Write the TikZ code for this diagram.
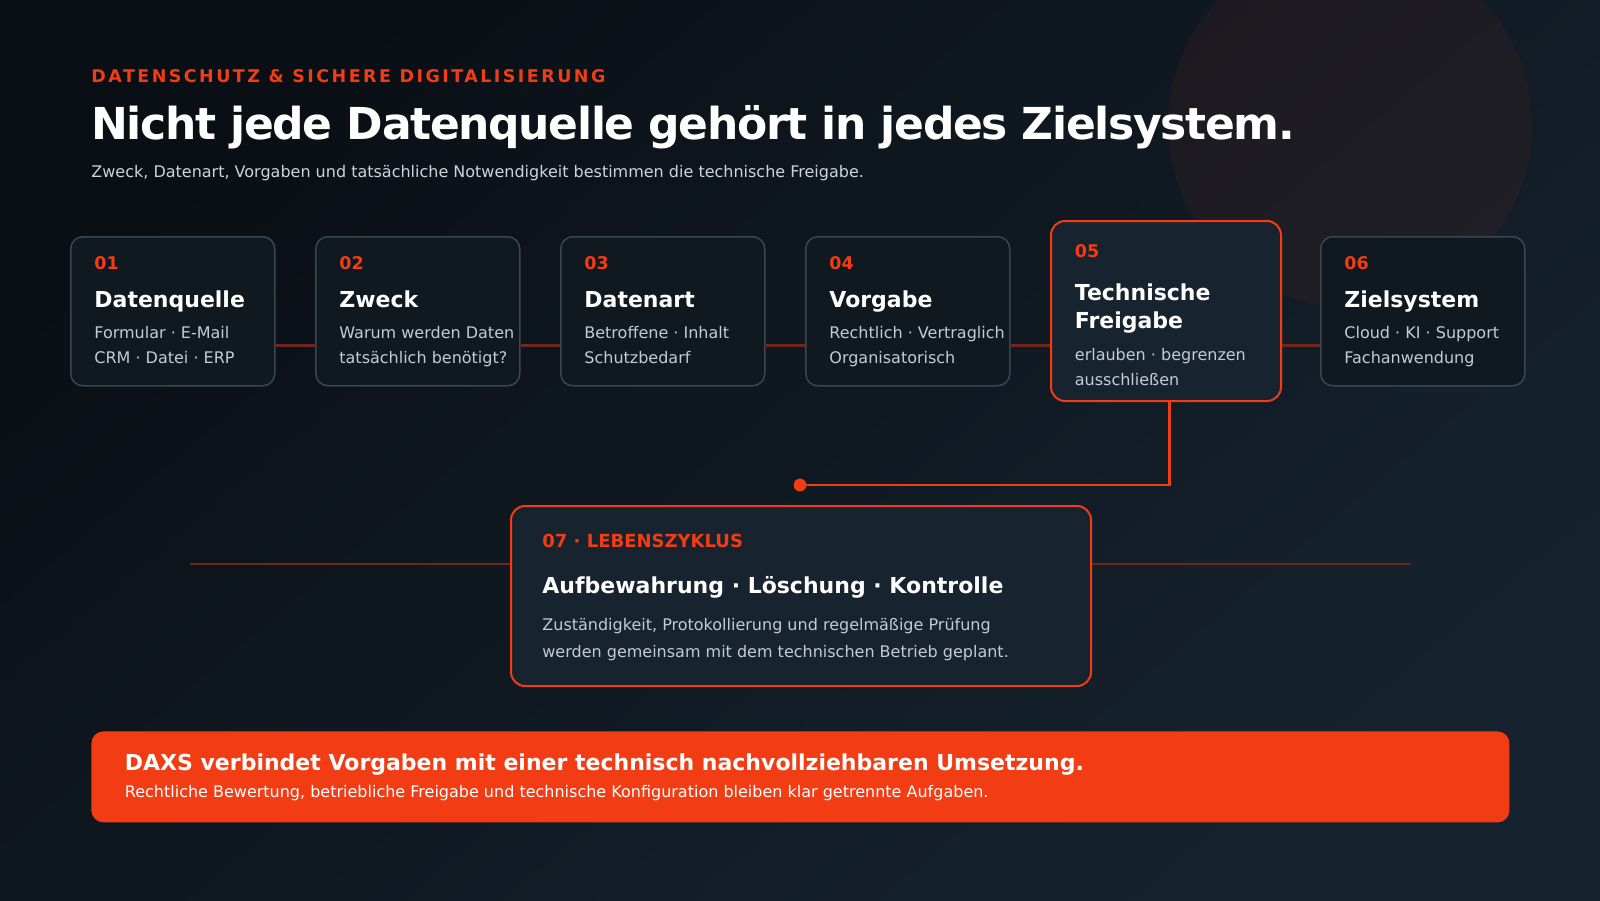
\documentclass[tikz,border=0pt]{standalone}
\usepackage{fontspec}
\setmainfont{DejaVu Sans}
\newfontfamily\eyefont[LetterSpace=14]{DejaVu Sans}
\newfontfamily\headfont[LetterSpace=-3]{DejaVu Sans}
\definecolor{bgA}{HTML}{0A0F15}
\definecolor{bgB}{HTML}{16232F}
\definecolor{accent}{HTML}{F23C14}
\definecolor{cardfill}{HTML}{101820}
\definecolor{cardline}{HTML}{3A4651}
\definecolor{hifill}{HTML}{17232E}
\definecolor{desctxt}{HTML}{C3CBD3}
\definecolor{subtxt}{HTML}{CDD4DB}
\definecolor{linkred}{HTML}{6E2718}
\begin{document}
\begin{tikzpicture}[x=0.5pt,y=-0.5pt,
  card/.style={draw=cardline, line width=0.75pt, fill=cardfill, rounded corners=6pt,
    minimum width=102pt, minimum height=74.5pt, inner sep=0pt, anchor=north west},
  hicard/.style={draw=accent, line width=1pt, fill=hifill, rounded corners=7pt,
    inner sep=0pt, anchor=north west},
  txt/.style={anchor=base west, inner sep=0pt},
  num/.style={txt, text=accent, font=\bfseries\fontsize{8.75pt}{10pt}\selectfont},
  ctitle/.style={txt, text=white, font=\bfseries\fontsize{11pt}{13pt}\selectfont},
  cdesc/.style={txt, text=desctxt, font=\fontsize{8pt}{10pt}\selectfont},
  link/.style={draw=linkred, line width=1.5pt},
]
\useasboundingbox (0,0) rectangle (1600,900);
\shade[top color=bgA, bottom color=bgB, shading angle=40] (0,0) rectangle (1600,900);
\fill[accent, opacity=0.06] (1350,125) circle[radius=91pt];

% header
\node[txt, text=accent, font=\eyefont\bfseries\fontsize{8.75pt}{10pt}\selectfont] (eyebrow) at (91,82) {DATENSCHUTZ \& SICHERE DIGITALISIERUNG};
\node[txt, text=white, font=\headfont\bfseries\fontsize{22pt}{26pt}\selectfont] (title) at (91,139) {Nicht jede Datenquelle gehört in jedes Zielsystem.};
\node[txt, text=subtxt, font=\fontsize{8pt}{10pt}\selectfont] (sub) at (91,177.5) {Zweck, Datenart, Vorgaben und tatsächliche Notwendigkeit bestimmen die technische Freigabe.};

% helper coordinate for the connecting line
\coordinate (ly) at (0,345);

% cards
\node[card] (c1) at (70,236) {};
\node[card] (c2) at (315,236) {};
\node[card] (c3) at (560,236) {};
\node[card] (c4) at (805,236) {};
\node[hicard, minimum width=115pt, minimum height=90pt] (c5) at (1050,220) {};
\node[card] (c6) at (1320,236) {};

\path[link] (c1.east |- ly) -- (c2.west |- ly);
\path[link] (c2.east |- ly) -- (c3.west |- ly);
\path[link] (c3.east |- ly) -- (c4.west |- ly);
\path[link] (c4.east |- ly) -- (c5.west |- ly);
\path[link] (c5.east |- ly) -- (c6.west |- ly);

\node[num] (n1) at (94,269) {01};
\node[ctitle] (t1) at (94,307) {Datenquelle};
\node[cdesc] (d1a) at (94,338) {Formular · E-Mail};
\node[cdesc] (d1b) at (94,363) {CRM · Datei · ERP};

\node[num] (n2) at (339,269) {02};
\node[ctitle] (t2) at (339,307) {Zweck};
\node[cdesc] (d2a) at (339,338) {Warum werden Daten};
\node[cdesc] (d2b) at (339,363) {tatsächlich benötigt?};

\node[num] (n3) at (584,269) {03};
\node[ctitle] (t3) at (584,307) {Datenart};
\node[cdesc] (d3a) at (584,338) {Betroffene · Inhalt};
\node[cdesc] (d3b) at (584,363) {Schutzbedarf};

\node[num] (n4) at (829,269) {04};
\node[ctitle] (t4) at (829,307) {Vorgabe};
\node[cdesc] (d4a) at (829,338) {Rechtlich · Vertraglich};
\node[cdesc] (d4b) at (829,363) {Organisatorisch};

\node[num] (n5) at (1074.5,257) {05};
\node[ctitle] (t5a) at (1074.5,300) {Technische};
\node[ctitle] (t5b) at (1074.5,328.5) {Freigabe};
\node[cdesc] (d5a) at (1074.5,360) {erlauben · begrenzen};
\node[cdesc] (d5b) at (1074.5,385) {ausschließen};

\node[num] (n6) at (1344,269) {06};
\node[ctitle] (t6) at (1344,307) {Zielsystem};
\node[cdesc] (d6a) at (1344,338) {Cloud · KI · Support};
\node[cdesc] (d6b) at (1344,363) {Fachanwendung};

% connector to lifecycle
\coordinate (j) at (1169.5,485);
\coordinate (dot) at (800,485);
\draw[accent, line width=1.25pt] (j |- c5.south) -- (j) -- (dot);
\fill[accent] (dot) circle[radius=3.2pt];

% lifecycle card
\coordinate (l7a) at (190,564);
\coordinate (l7b) at (1410,564);
\node[hicard, minimum width=290pt, minimum height=90pt] (c7) at (510,505) {};
\draw[linkred, line width=1pt] (l7a) -- (c7.west |- l7a);
\draw[linkred, line width=1pt] (c7.east |- l7b) -- (l7b);
\node[txt, text=accent, font=\bfseries\fontsize{9pt}{10pt}\selectfont] (lab7) at (542,547) {07 · LEBENSZYKLUS};
\node[txt, text=white, font=\bfseries\fontsize{11pt}{13pt}\selectfont] (t7) at (542,593) {Aufbewahrung · Löschung · Kontrolle};
\node[cdesc] (d7a) at (542,630.5) {Zuständigkeit, Protokollierung und regelmäßige Prüfung};
\node[cdesc] (d7b) at (542,657) {werden gemeinsam mit dem technischen Betrieb geplant.};

% banner
\node[fill=accent, rounded corners=6pt, minimum width=709pt, minimum height=45.5pt, inner sep=0pt, anchor=north west] (ban) at (91,731) {};
\node[txt, text=white, font=\bfseries\fontsize{11pt}{13pt}\selectfont] (bt) at (124.5,770.5) {DAXS verbindet Vorgaben mit einer technisch nachvollziehbaren Umsetzung.};
\node[txt, text=white, font=\fontsize{8pt}{9pt}\selectfont] (bs) at (124.5,797) {Rechtliche Bewertung, betriebliche Freigabe und technische Konfiguration bleiben klar getrennte Aufgaben.};
\end{tikzpicture}
\end{document}
